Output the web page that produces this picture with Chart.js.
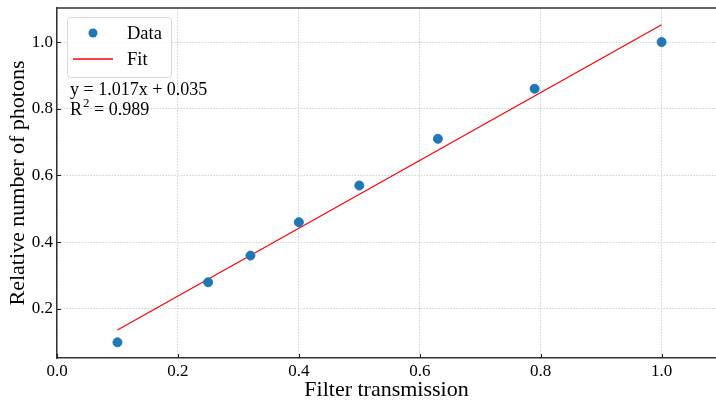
<!DOCTYPE html>
<html>
<head>
<meta charset="utf-8">
<script src="https://cdn.jsdelivr.net/npm/chart.js@4"></script>
<style>
  body { margin: 0; background: #fff; }
  canvas { display: block; }
</style>
</head>
<body>
<canvas id="chart" width="716" height="405"></canvas>
<script>
// measured points
const transmission = [0.1, 0.25, 0.32, 0.4, 0.5, 0.63, 0.79, 1.0];
const photons = [0.10, 0.28, 0.36, 0.46, 0.57, 0.71, 0.86, 1.0];

// fit line ends (y = 1.017x + 0.035)
const fitX = [0.1, 1.0];
const fitY = [0.137, 1.052];

const xTicks = [0.0, 0.2, 0.4, 0.6, 0.8, 1.0];
const yTicks = [0.2, 0.4, 0.6, 0.8, 1.0];

const fitText = 'y = 1.017x + 0.035';
const r2Value = '0.989';

const serif = "'Liberation Serif', 'DejaVu Serif', serif";

// legend, fit text, inward ticks, top frame
const extras = {
  id: 'extras',
  afterDraw(chart) {
    const ctx = chart.ctx;
    const area = chart.chartArea;
    const xs = chart.scales.x;
    const ys = chart.scales.y;
    ctx.save();

    ctx.strokeStyle = '#222';
    ctx.lineWidth = 1;
    xTicks.forEach(v => {
      const px = Math.round(xs.getPixelForValue(v)) + 0.5;
      ctx.beginPath();
      ctx.moveTo(px, area.bottom);
      ctx.lineTo(px, area.bottom - 4);
      ctx.stroke();
    });
    yTicks.forEach(v => {
      const py = Math.round(ys.getPixelForValue(v)) + 0.5;
      ctx.beginPath();
      ctx.moveTo(area.left, py);
      ctx.lineTo(area.left + 4, py);
      ctx.stroke();
    });

    ctx.strokeStyle = '#333';
    ctx.lineWidth = 1.5;
    ctx.beginPath();
    ctx.moveTo(area.left, area.top);
    ctx.lineTo(area.right, area.top);
    ctx.stroke();

    // legend box
    ctx.fillStyle = 'rgba(255,255,255,0.85)';
    ctx.strokeStyle = '#dadada';
    ctx.lineWidth = 1;
    ctx.beginPath();
    ctx.roundRect(67.5, 17.5, 104, 60, 3);
    ctx.fill();
    ctx.stroke();

    ctx.fillStyle = '#1f77b4';
    ctx.beginPath();
    ctx.arc(93, 33, 4.5, 0, Math.PI * 2);
    ctx.fill();

    ctx.strokeStyle = '#ff0000';
    ctx.lineWidth = 1.5;
    ctx.beginPath();
    ctx.moveTo(73, 59);
    ctx.lineTo(113, 59);
    ctx.stroke();

    ctx.fillStyle = '#000';
    ctx.font = '18.5px ' + serif;
    ctx.textBaseline = 'alphabetic';
    ctx.textAlign = 'left';
    ctx.fillText('Data', 127, 39);
    ctx.fillText('Fit', 127, 65);

    // fit text
    ctx.font = '18px ' + serif;
    ctx.fillText(fitText, 70, 95);
    ctx.fillText('R', 70, 115);
    const rw = ctx.measureText('R').width;
    ctx.font = '13px ' + serif;
    ctx.fillText('2', 70 + rw + 1, 107);
    const sw = ctx.measureText('2').width;
    ctx.font = '18px ' + serif;
    ctx.fillText(' = ' + r2Value, 70 + rw + 1 + sw, 115);

    ctx.restore();
  }
};

function noPad(s) {
  s.paddingLeft = 0;
  s.paddingRight = 0;
  s.paddingTop = 0;
  s.paddingBottom = 0;
}

const data = {
  datasets: [
    {
      label: 'Data',
      data: transmission.map((x, i) => ({ x: x, y: photons[i] })),
      backgroundColor: '#1f77b4',
      borderColor: '#1f77b4',
      pointRadius: 4.5,
      pointHoverRadius: 4.5,
      order: 1
    },
    {
      type: 'line',
      label: 'Fit',
      data: fitX.map((x, i) => ({ x: x, y: fitY[i] })),
      borderColor: 'red',
      borderWidth: 1.2,
      pointRadius: 0,
      fill: false,
      order: 2
    }
  ]
};

const config = {
  type: 'scatter',
  data: data,
  options: {
    responsive: false,
    animation: false,
    layout: { autoPadding: false, padding: { top: 8, right: 0, left: 0, bottom: 0 } },
    plugins: {
      legend: { display: false },
      tooltip: { enabled: false }
    },
    scales: {
      x: {
        type: 'linear',
        min: 0,
        max: 1.09,
        afterBuildTicks: s => { s.ticks = xTicks.map(v => ({ value: v })); },
        afterFit: s => { s.height = 47; noPad(s); },
        grid: { color: '#c4c4c4', lineWidth: 0.8, drawTicks: false },
        border: { color: '#333', width: 1.5, dash: [1.5, 1.5] },
        ticks: {
          color: '#000',
          padding: 3,
          font: { family: serif, size: 17 },
          callback: v => v.toFixed(1)
        },
        title: {
          display: true,
          text: 'Filter transmission',
          color: '#000',
          font: { family: serif, size: 22, lineHeight: 1.2 },
          padding: { top: 0, bottom: 2 }
        }
      },
      y: {
        type: 'linear',
        min: 0.053,
        max: 1.102,
        afterBuildTicks: s => { s.ticks = yTicks.map(v => ({ value: v })); },
        afterFit: s => { s.width = 57; noPad(s); },
        grid: { color: '#c4c4c4', lineWidth: 0.8, drawTicks: false },
        border: { color: '#333', width: 1.5, dash: [1.5, 1.5] },
        ticks: {
          color: '#000',
          padding: 4,
          font: { family: serif, size: 17 },
          callback: v => v.toFixed(1)
        },
        title: {
          display: true,
          text: 'Relative number of photons',
          color: '#000',
          font: { family: serif, size: 22, lineHeight: 1.2 },
          padding: { top: 5, bottom: 0 }
        }
      }
    }
  },
  plugins: [extras]
};

const chart = new Chart(document.getElementById('chart'), config);
</script>
</body>
</html>
